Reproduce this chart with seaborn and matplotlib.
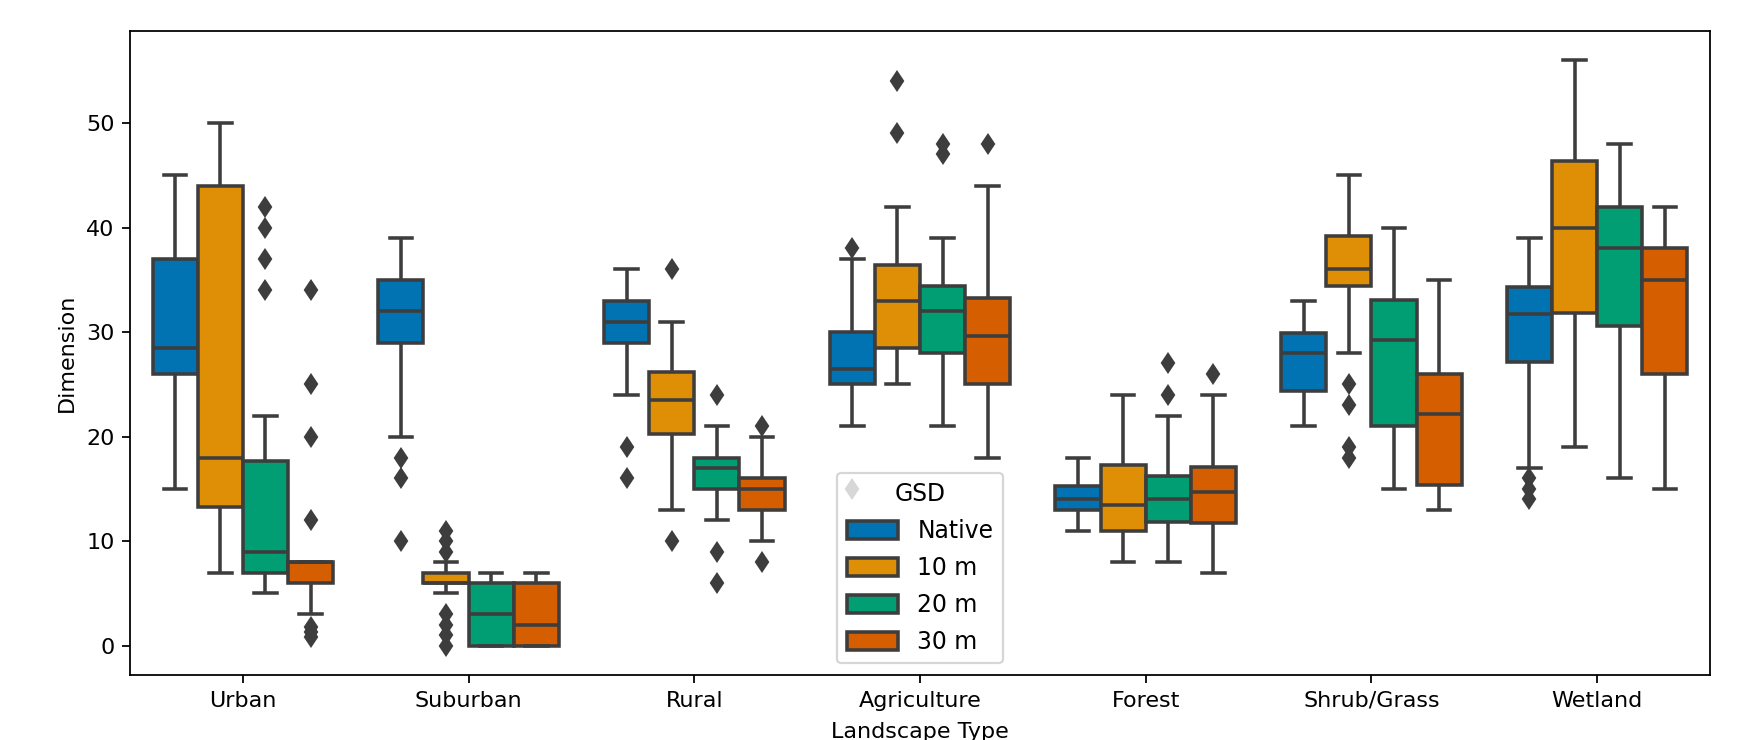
import matplotlib
matplotlib.use("Agg")
import matplotlib.pyplot as plt
import pandas as pd
import seaborn as sns

# categories
landscapes = ["Urban", "Suburban", "Rural", "Agriculture", "Forest", "Shrub/Grass", "Wetland"]
gsd_levels = ["Native", "10 m", "20 m", "30 m"]

# box summaries, one row per landscape, columns follow gsd_levels
whis_lo = [
    [15, 7, 5, 3],
    [20, 5, 0, 0],
    [24, 13, 12, 10],
    [21, 25, 21, 18],
    [11, 8, 8, 7],
    [21, 28, 15, 13],
    [17, 19, 16, 15],
]
q1 = [
    [26, 13.3, 7, 6],
    [29, 6, 0, 0],
    [29, 20.3, 15, 13],
    [25, 28.5, 28, 25],
    [13, 11, 11.8, 11.7],
    [24.4, 34.4, 21, 15.4],
    [27.1, 31.8, 30.6, 26],
]
median = [
    [28.5, 18, 9, 8],
    [32, 6, 3, 2],
    [31, 23.5, 17, 15],
    [26.5, 33, 32, 29.6],
    [14, 13.5, 14, 14.7],
    [28, 36, 29.2, 22.2],
    [31.7, 40, 38, 35],
]
q3 = [
    [37, 44, 17.7, 8],
    [35, 7, 6, 6],
    [33, 26.2, 18, 16],
    [30, 36.4, 34.4, 33.3],
    [15.3, 17.3, 16.2, 17.1],
    [29.9, 39.2, 33.1, 26],
    [34.3, 46.4, 42, 38],
]
whis_hi = [
    [45, 50, 22, 8],
    [39, 8, 7, 7],
    [36, 31, 21, 20],
    [37, 42, 39, 44],
    [18, 24, 22, 24],
    [33, 45, 40, 35],
    [39, 56, 48, 42],
]
outliers = [
    [[], [], [34, 37, 40, 42], [0.8, 1.3, 1.8, 12, 20, 25, 34]],
    [[10, 16, 18], [0, 1, 2, 3, 9, 10, 11], [], []],
    [[16, 19], [10, 36], [6, 9, 24], [8, 21]],
    [[15, 38], [49, 54], [47, 48], [48]],
    [[], [], [24, 27], [26]],
    [[], [18, 19, 23, 25], [], []],
    [[14, 15, 16], [], [], []],
]

# rebuild observations so that seaborn computes the same quartiles/whiskers
N_REP = 20
rows = []
for i, land in enumerate(landscapes):
    for j, gsd in enumerate(gsd_levels):
        vals = ([whis_lo[i][j]] + [q1[i][j]] * N_REP + [median[i][j]] * N_REP
                + [q3[i][j]] * N_REP + [whis_hi[i][j]] + outliers[i][j])
        for v in vals:
            rows.append({"Landscape Type": land, "GSD": gsd, "Dimension": v})
df = pd.DataFrame(rows)

DPI = 160
fig = plt.figure(figsize=(1744 / DPI, 740 / DPI), dpi=DPI)
ax = fig.add_axes([130 / 1744, 65 / 740, 1580 / 1744, 644 / 740])

line_col = "#3d3d3d"
sns.boxplot(
    data=df,
    x="Landscape Type",
    y="Dimension",
    hue="GSD",
    order=landscapes,
    hue_order=gsd_levels,
    palette="colorblind",
    saturation=1,
    linewidth=1.6,
    linecolor=line_col,
    flierprops=dict(marker="d", markersize=6, markerfacecolor=line_col,
                    markeredgecolor=line_col),
    ax=ax,
)
sns.move_legend(ax, "lower center", title="GSD", fontsize=10.6,
                title_fontsize=10.6, labelspacing=0.55, handlelength=2.2,
                handleheight=0.8)
# the label runs off the bottom edge, as in the source figure
ax.set_xlabel("Landscape Type", labelpad=5)

fig.savefig("out.png", dpi=DPI)
plt.close(fig)
